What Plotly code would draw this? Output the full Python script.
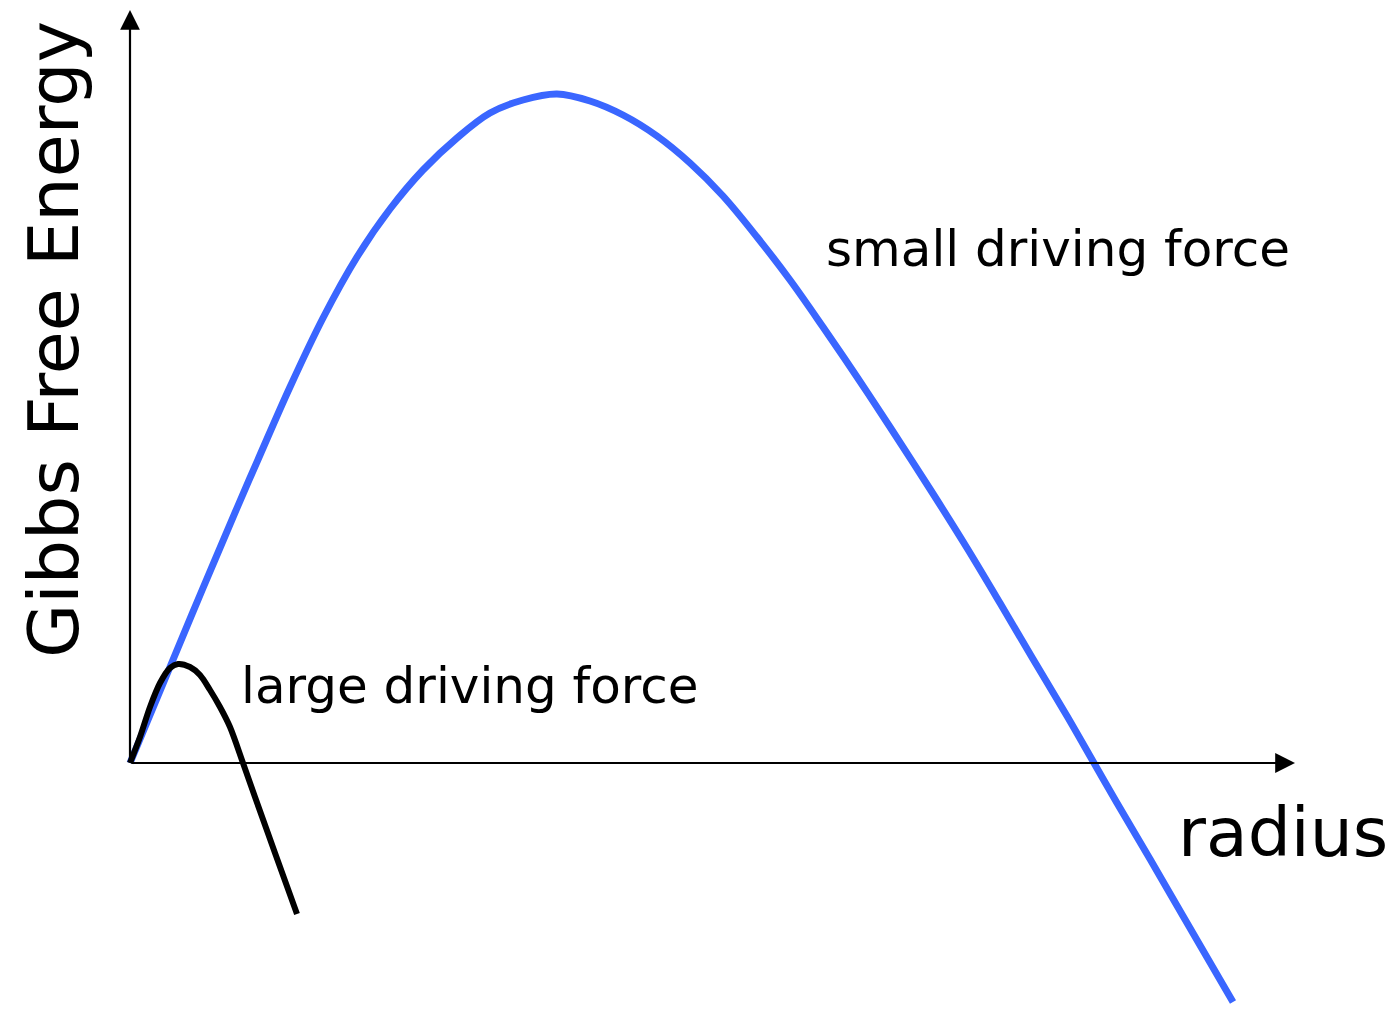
import plotly.graph_objects as go

# Curve values (radius, Gibbs free energy; arbitrary units)
small_r = [0, 0.40, 0.73, 1.07, 1.30, 1.60, 1.93, 2.27, 2.60, 2.93, 3.27, 3.60,
           3.93, 4.27, 4.60, 4.93, 5.27, 5.60, 5.93, 6.27, 6.60, 6.93, 7.27, 7.60,
           8.00, 8.37, 8.70, 9.03, 9.37, 9.64, 9.87, 10.20, 10.53, 11.03]
small_G = [0, 0.96, 1.75, 2.55, 3.08, 3.76, 4.45, 5.06, 5.54, 5.93, 6.25, 6.50,
           6.63, 6.69, 6.62, 6.48, 6.27, 6.00, 5.67, 5.26, 4.83, 4.36, 3.86, 3.36,
           2.74, 2.15, 1.60, 1.04, 0.47, 0, -0.40, -0.96, -1.53, -2.39]

large_r = [0, 0.10, 0.20, 0.30, 0.40, 0.48, 0.60, 0.70, 0.80, 0.90, 1.00, 1.13,
           1.25, 1.45, 1.67]
large_G = [0, 0.26, 0.56, 0.80, 0.95, 0.99, 0.96, 0.88, 0.73, 0.56, 0.36, 0,
           -0.34, -0.90, -1.51]

x_axis_end = 11.65
y_axis_end = 7.53

labels = {
    "y": "Gibbs Free Energy",
    "x": "radius",
    "small": "small driving force",
    "large": "large driving force",
}

# page geometry: the html body has an 8px margin, so the figure is made smaller
OFF = 8
W, H = 1399 - OFF, 1014 - OFF
x_range = [-(130 - OFF) / 100, -(130 - OFF) / 100 + W / 100]
y_range = [(763 - OFF) / 100 - H / 100, (763 - OFF) / 100]


def px(x):
    return (x - OFF) / W


def py(y):
    return 1 - (y - OFF) / H


FONT = "DejaVu Sans, sans-serif"
BLUE = "#3a66ff"

fig = go.Figure()
fig.add_trace(go.Scatter(x=small_r, y=small_G, mode="lines",
                         line=dict(color=BLUE, width=7, shape="spline", smoothing=1.0),
                         hoverinfo="skip", showlegend=False))
fig.add_trace(go.Scatter(x=large_r, y=large_G, mode="lines",
                         line=dict(color="black", width=6, shape="spline", smoothing=0.9),
                         hoverinfo="skip", showlegend=False))

# axes drawn as arrows
for (x, y) in [(x_axis_end, 0), (0, y_axis_end)]:
    fig.add_annotation(x=x, y=y, ax=0, ay=0, xref="x", yref="y", axref="x", ayref="y",
                       text="", showarrow=True, arrowhead=2, arrowsize=1.8,
                       arrowwidth=2.2, arrowcolor="black", standoff=0, startstandoff=0)

common = dict(xref="paper", yref="paper", showarrow=False,
              xanchor="center", yanchor="middle")
fig.add_annotation(x=px(54), y=py(340), text=labels["y"], textangle=-90,
                   font=dict(family=FONT, size=70, color="black"), **common)
fig.add_annotation(x=px(1283), y=py(832), text=labels["x"],
                   font=dict(family=FONT, size=68, color="black"), **common)
fig.add_annotation(x=px(1058), y=py(249), text=labels["small"],
                   font=dict(family=FONT, size=50, color="black"), **common)
fig.add_annotation(x=px(470), y=py(686), text=labels["large"],
                   font=dict(family=FONT, size=50, color="black"), **common)

fig.update_layout(width=W, height=H,
                  margin=dict(l=0, r=0, t=0, b=0, pad=0, autoexpand=False),
                  paper_bgcolor="white", plot_bgcolor="white",
                  xaxis=dict(range=x_range, visible=False, fixedrange=True),
                  yaxis=dict(range=y_range, visible=False, fixedrange=True))

fig.write_html("out.html")
